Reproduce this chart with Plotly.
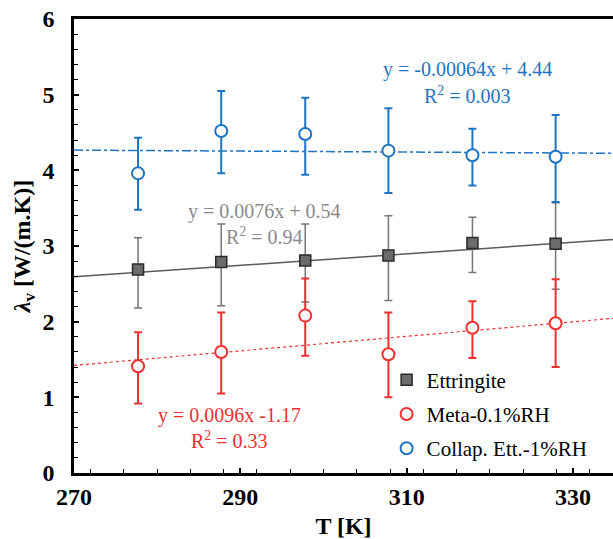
import numpy as np
import plotly.graph_objects as go

# ---- data ----
T = [277.7, 287.7, 297.8, 307.8, 317.9, 327.9]

ett_y = [2.69, 2.79, 2.81, 2.875, 3.04, 3.03]
ett_hi = [3.11, 3.29, 3.29, 3.40, 3.38, 3.57]
ett_lo = [2.18, 2.21, 2.26, 2.28, 2.65, 2.43]

meta_y = [1.41, 1.60, 2.08, 1.57, 1.92, 1.98]
meta_hi = [1.86, 2.12, 2.57, 2.12, 2.27, 2.56]
meta_lo = [0.92, 1.05, 1.55, 1.00, 1.52, 1.40]

col_y = [3.96, 4.52, 4.48, 4.26, 4.20, 4.18]
col_hi = [4.43, 5.05, 4.96, 4.82, 4.55, 4.73]
col_lo = [3.48, 3.96, 3.94, 3.70, 3.80, 3.58]

# linear fits (slope, intercept) as shown on the chart
fit_ett = (0.0076, 0.54)
fit_meta = (0.0096, -1.17)
fit_col = (-0.00064, 4.44)

x_range = [270, 334.8]
x_ticks = [270, 290, 310, 330]
y_ticks = [0, 1, 2, 3, 4, 5, 6]

GRAY_M = "#6b6b6b"
GRAY_L = "#5a5a5a"
GRAY_T = "#8a8a8a"
RED = "#ee3030"
BLUE = "#1f74c2"
FONT = "Liberation Serif"

def err(y, hi, lo):
    y, hi, lo = np.array(y), np.array(hi), np.array(lo)
    return hi - y, y - lo

fig = go.Figure()

xl = np.array(x_range)
for (m, b), col, dash, w in [(fit_ett, GRAY_L, "solid", 1.5),
                             (fit_meta, RED, "dot", 1.2),
                             (fit_col, BLUE, "dashdot", 1.5)]:
    fig.add_trace(go.Scatter(x=xl, y=m * xl + b, mode="lines",
                             line=dict(color=col, width=w, dash=dash),
                             showlegend=False, hoverinfo="skip"))

up, dn = err(ett_y, ett_hi, ett_lo)
fig.add_trace(go.Scatter(
    x=T, y=ett_y, mode="markers", name="Ettringite", legendgroup="a",
    marker=dict(symbol="square", size=11, color=GRAY_M, line=dict(color="#2a2a2a", width=1.5)),
    error_y=dict(type="data", symmetric=False, array=up, arrayminus=dn,
                 color="#777777", thickness=1.5, width=4)))

up, dn = err(meta_y, meta_hi, meta_lo)
fig.add_trace(go.Scatter(
    x=T, y=meta_y, mode="markers", name="Meta-0.1%RH", legendgroup="b",
    marker=dict(symbol="circle", size=12, color="white", line=dict(color=RED, width=2)),
    error_y=dict(type="data", symmetric=False, array=up, arrayminus=dn,
                 color=RED, thickness=2, width=4)))

up, dn = err(col_y, col_hi, col_lo)
fig.add_trace(go.Scatter(
    x=T, y=col_y, mode="markers", name="Collap. Ett.-1%RH", legendgroup="c",
    marker=dict(symbol="circle", size=12, color="white", line=dict(color=BLUE, width=2)),
    error_y=dict(type="data", symmetric=False, array=up, arrayminus=dn,
                 color=BLUE, thickness=2, width=4)))

ann = [
    (317.3, 5.33, "y = -0.00064x + 4.44", BLUE),
    (317.3, 4.99, "R<sup>2</sup> = 0.003", BLUE),
    (292.9, 3.46, "y = 0.0076x + 0.54", GRAY_T),
    (292.9, 3.13, "R<sup>2</sup> = 0.94", GRAY_T),
    (288.7, 0.76, "y = 0.0096x -1.17", RED),
    (288.7, 0.44, "R<sup>2</sup> = 0.33", RED),
]
for x, y, t, c in ann:
    fig.add_annotation(x=x, y=y, text=t, showarrow=False,
                       font=dict(family=FONT, size=20, color=c))

fig.update_layout(
    width=613, height=539,
    margin=dict(l=74, r=0, t=19, b=66),
    paper_bgcolor="white", plot_bgcolor="white",
    font=dict(family=FONT, color="black"),
    legend=dict(x=0.58, y=0.25, xanchor="left", yanchor="top",
                font=dict(family=FONT, size=21, color="black"),
                bgcolor="rgba(0,0,0,0)", tracegroupgap=4),
    xaxis=dict(range=x_range, tickvals=x_ticks, ticks="inside", ticklen=5,
               tickwidth=1.5, tickcolor="black",
               showline=True, linecolor="black", linewidth=2.5, mirror=True,
               showgrid=False, zeroline=False,
               minor=dict(dtick=4, ticks="inside", ticklen=4, tickwidth=1.2,
                          tickcolor="black"),
               tickfont=dict(family=FONT, size=24, color="black", weight="bold"),
               ticklabelstandoff=0,
               title=dict(text="<b>T [K]</b>", standoff=11,
                          font=dict(family=FONT, size=24, color="black"))),
    yaxis=dict(range=[0, 6], tickvals=y_ticks, ticks="inside", ticklen=5,
               tickwidth=1.5, tickcolor="black",
               showline=True, linecolor="black", linewidth=2.5,
               showgrid=False, zeroline=False,
               minor=dict(dtick=0.2, ticks="inside", ticklen=4, tickwidth=1.2,
                          tickcolor="black"),
               tickfont=dict(family=FONT, size=24, color="black", weight="bold"),
               ticklabelstandoff=12,
               title=dict(text="<b><i>λ</i><sub>v</sub> [W/(m.K)]</b>", standoff=6,
                          font=dict(family=FONT, size=24, color="black"))),
)

fig.write_html("out.html")
